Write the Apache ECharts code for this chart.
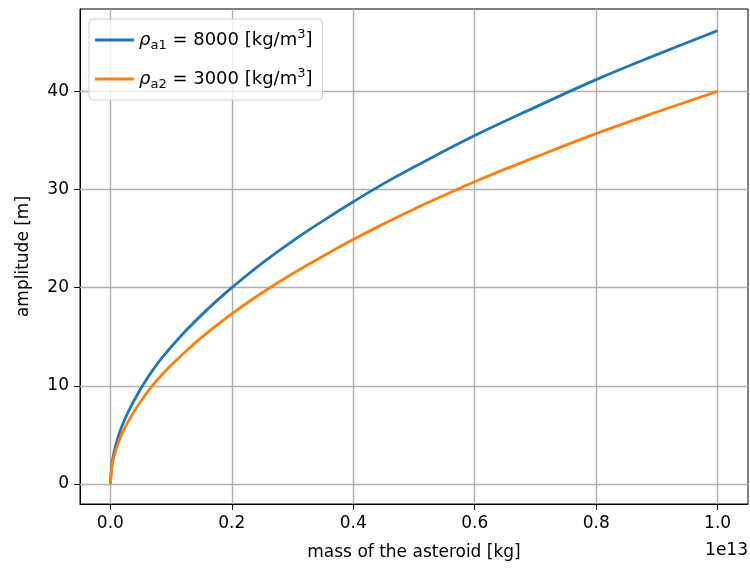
<!DOCTYPE html>
<html>
<head>
<meta charset="utf-8">
<script src="https://cdn.jsdelivr.net/npm/echarts@6/dist/echarts.min.js"></script>
<style>
html,body{margin:0;padding:0;background:#fff;}
#chart{width:750px;height:569px;}
</style>
</head>
<body>
<div id="chart"></div>
<script>
// mass of the asteroid, in units of 1e13 kg
const massE13 = [0, 0.0025, 0.005, 0.0075, 0.01, 0.015, 0.02, 0.03, 0.04, 0.05, 0.06, 0.07, 0.08, 0.09, 0.1, 0.125, 0.15, 0.175, 0.2, 0.25, 0.3, 0.35, 0.4, 0.45, 0.5, 0.6, 0.7, 0.8, 0.9, 1.0];
// amplitude [m], rho_a1 = 8000 kg/m^3
const amp8000 = [0, 2.0, 2.9, 3.6, 4.2, 5.2, 6.02, 7.42, 8.6, 9.7, 10.7, 11.6, 12.45, 13.22, 13.95, 15.65, 17.2, 18.65, 20.0, 22.5, 24.75, 26.8, 28.75, 30.6, 32.3, 35.5, 38.4, 41.2, 43.75, 46.2];
// amplitude [m], rho_a2 = 3000 kg/m^3
const amp3000 = [0, 1.73, 2.51, 3.12, 3.64, 4.5, 5.22, 6.42, 7.45, 8.4, 9.27, 10.07, 10.78, 11.45, 12.08, 13.55, 14.9, 16.15, 17.33, 19.48, 21.42, 23.2, 24.9, 26.5, 28.0, 30.8, 33.3, 35.7, 37.9, 40.0];
const xTicks = [0, 0.2, 0.4, 0.6, 0.8, 1.0];
const yTicks = [0, 10, 20, 30, 40];
const xLabel = 'mass of the asteroid [kg]';
const yLabel = 'amplitude [m]';
const xOffsetText = '1e13';

const FONT = 'DejaVu Sans';
const chart = echarts.init(document.getElementById('chart'), null, {renderer: 'canvas'});

const pair = (xs, ys) => xs.map((x, i) => [x, ys[i]]);

const gridLines = [];
xTicks.forEach(v => gridLines.push({xAxis: v}));
yTicks.forEach(v => gridLines.push({yAxis: v}));

const legendRich = {
  r: {fontFamily: FONT, fontSize: 18, fontStyle: 'italic', color: '#000', lineHeight: 24, verticalAlign: 'middle'},
  s: {fontFamily: FONT, fontSize: 13, color: '#000', lineHeight: 24, verticalAlign: 'bottom'},
  t: {fontFamily: FONT, fontSize: 18, color: '#000', lineHeight: 24, verticalAlign: 'middle'},
  p: {fontFamily: FONT, fontSize: 13, color: '#000', lineHeight: 24, verticalAlign: 'top'}
};

chart.setOption({
  animation: false,
  backgroundColor: '#fff',
  grid: {left: 80, top: 9, right: 2, bottom: 65, show: true, borderColor: '#000', borderWidth: 1, backgroundColor: 'transparent', containLabel: false},
  xAxis: {
    type: 'value', min: -0.05, max: 1.05,
    name: xLabel, nameLocation: 'middle', nameGap: 40,
    nameTextStyle: {fontFamily: FONT, fontSize: 17, color: '#000'},
    axisLine: {show: true, onZero: false, lineStyle: {color: '#000', width: 1}},
    axisTick: {show: true, inside: false, length: 6, customValues: xTicks, lineStyle: {color: '#000', width: 1}},
    axisLabel: {show: true, margin: 11, customValues: xTicks, fontFamily: FONT, fontSize: 17, color: '#000', formatter: v => v.toFixed(1)},
    splitLine: {show: false}
  },
  yAxis: {
    type: 'value', min: -2.05, max: 48.4,
    name: yLabel, nameLocation: 'middle', nameGap: 48,
    nameTextStyle: {fontFamily: FONT, fontSize: 17, color: '#000'},
    axisLine: {show: true, onZero: false, lineStyle: {color: '#000', width: 1}},
    axisTick: {show: true, inside: false, length: 6, customValues: yTicks, lineStyle: {color: '#000', width: 1}},
    axisLabel: {show: true, margin: 11, customValues: yTicks, fontFamily: FONT, fontSize: 17, color: '#000', formatter: v => String(v)},
    splitLine: {show: false}
  },
  legend: {
    left: 89, top: 19, orient: 'vertical',
    padding: [9, 10, 9, 6],
    itemGap: 15, itemWidth: 39, itemHeight: 2.8, itemTextGap: 14,
    icon: 'rect',
    backgroundColor: 'rgba(255,255,255,0.8)', borderColor: '#d0d0d0', borderWidth: 1, borderRadius: 4,
    data: [{name: 'rho1'}, {name: 'rho2'}],
    formatter: function (name) {
      const sub = name === 'rho1' ? 'a1' : 'a2';
      const val = name === 'rho1' ? '8000' : '3000';
      return '{r|ρ}{s|' + sub + '}{t| = ' + val + ' [kg/m}{p|3}{t|]}';
    },
    textStyle: {rich: legendRich, fontFamily: FONT, fontSize: 18, color: '#000'}
  },
  graphic: [{
    type: 'text', right: 2, top: 542,
    style: {text: xOffsetText, font: '17px "DejaVu Sans"', fill: '#000'}
  }],
  series: [
    {
      name: 'grid', type: 'line', data: [], silent: true, z: 1,
      markLine: {silent: true, symbol: ['none', 'none'], z: 1, animation: false,
        label: {show: false}, emphasis: {disabled: true},
        lineStyle: {color: '#b0b0b0', width: 1.4, type: 'solid'}, data: gridLines}
    },
    {
      name: 'rho1', type: 'line', data: pair(massE13, amp8000), showSymbol: false, symbol: 'none',
      smooth: 0.4, z: 3, lineStyle: {color: '#1f77b4', width: 2.8}, itemStyle: {color: '#1f77b4'}
    },
    {
      name: 'rho2', type: 'line', data: pair(massE13, amp3000), showSymbol: false, symbol: 'none',
      smooth: 0.4, z: 3, lineStyle: {color: '#ff7f0e', width: 2.8}, itemStyle: {color: '#ff7f0e'}
    }
  ]
});
</script>
</body>
</html>
